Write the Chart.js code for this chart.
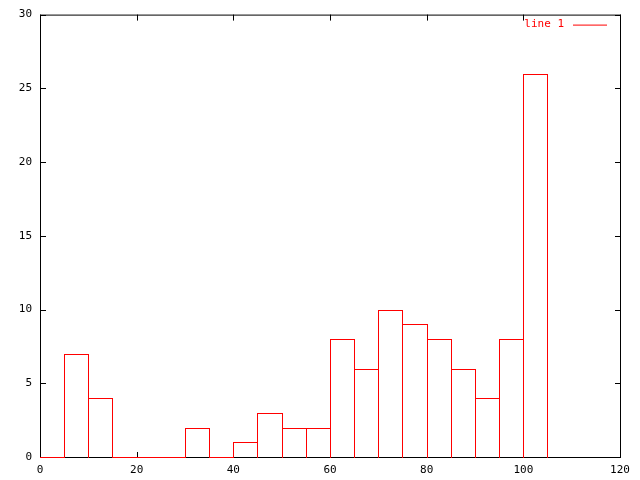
<!DOCTYPE html>
<html>
<head>
<meta charset="utf-8">
<script src="https://cdn.jsdelivr.net/npm/chart.js@4"></script>
<style>
  html, body { margin: 0; padding: 0; background: #fff; }
  #wrap { width: 640px; height: 480px; }
</style>
</head>
<body>
<div id="wrap"><canvas id="histChart" width="640" height="480"></canvas></div>
<script>
// histogram bins (start of each bin) and counts
const binStarts = [0, 5, 10, 15, 20, 25, 30, 35, 40, 45, 50, 55, 60, 65, 70, 75, 80, 85, 90, 95, 100];
const counts    = [0, 7, 4, 0, 0, 0, 2, 0, 1, 3, 2, 2, 8, 6, 10, 9, 8, 6, 4, 8, 26];
const binWidth = 5;
const seriesName = 'line 1';
const xTicks = [0, 20, 40, 60, 80, 100, 120];
const yTicks = [0, 5, 10, 15, 20, 25, 30];

const RED = '#ff0000';
const FONT = "'DejaVu Sans Mono', monospace";
const TICK_LEN = 6;

// empty bins show up as flat red segments on the axis: start, end, gap
const emptySegments = [];
binStarts.forEach((s, i) => {
    if (counts[i] === 0) {
        emptySegments.push({ x: s, y: 0 }, { x: s + binWidth, y: 0 }, { x: s + binWidth, y: null });
    }
});

// pixel snap, half rounds down like the reference
const snap = v => Math.ceil(v - 0.5 - 1e-6);
const NO_CLIP = { left: false, right: false, top: false, bottom: false, disabled: true };

// snap box edges to whole pixels so the 1px outlines stay crisp
const snapPlugin = {
    id: 'snapBars',
    afterDatasetsUpdate(chart) {
        const xs = chart.scales.x;
        const base = Math.round(chart.scales.y.getPixelForValue(0));

        const bars = chart.getDatasetMeta(0);
        bars._clip = NO_CLIP;
        bars.data.forEach((bar, i) => {
            const l = snap(xs.getPixelForValue(binStarts[i]));
            const r = snap(xs.getPixelForValue(binStarts[i] + binWidth));
            bar.x = (l + r + 1) / 2;
            bar.width = r - l + 1;
            if (counts[i] === 0) {
                bar.y = base;
                bar.base = base;
            } else {
                bar.y = snap(bar.y);
                bar.base = base + 1;
            }
            bar.height = bar.base - bar.y;
            // open at the bottom, like gnuplot boxes
            bar.borderSkipped = { bottom: true };
        });

        const flat = chart.getDatasetMeta(1);
        flat._clip = NO_CLIP;
        flat.data.forEach((pt, j) => {
            if (pt.skip) return;
            const p = flat.controller.getParsed(j);
            const px = snap(xs.getPixelForValue(p.x));
            pt.x = j % 3 === 1 ? px + 1 : px;
            pt.y = base + 0.5;
        });
    }
};

// gnuplot style frame with inward ticks on all four sides + key at top right
const framePlugin = {
    id: 'frame',
    beforeDatasetsDraw(chart) {
        const { ctx, chartArea: a, scales } = chart;
        ctx.save();
        ctx.strokeStyle = '#000';
        ctx.lineWidth = 1;
        ctx.strokeRect(a.left + 0.5, a.top + 0.5, a.right - a.left, a.bottom - a.top);
        ctx.beginPath();
        xTicks.forEach(v => {
            const px = snap(scales.x.getPixelForValue(v)) + 0.5;
            ctx.moveTo(px, a.bottom + 1); ctx.lineTo(px, a.bottom + 1 - TICK_LEN);
            ctx.moveTo(px, a.top); ctx.lineTo(px, a.top + TICK_LEN);
        });
        yTicks.forEach(v => {
            const py = snap(scales.y.getPixelForValue(v)) + 0.5;
            ctx.moveTo(a.left, py); ctx.lineTo(a.left + TICK_LEN, py);
            ctx.moveTo(a.right + 1, py); ctx.lineTo(a.right + 1 - TICK_LEN, py);
        });
        ctx.stroke();
        ctx.restore();
    },
    afterDraw(chart) {
        const { ctx, chartArea: a } = chart;
        ctx.save();
        ctx.font = '11px ' + FONT;
        ctx.fillStyle = RED;
        ctx.textAlign = 'right';
        ctx.textBaseline = 'middle';
        ctx.fillText(seriesName, a.right - 56, a.top + 10);
        ctx.strokeStyle = RED;
        ctx.lineWidth = 1;
        ctx.beginPath();
        ctx.moveTo(a.right - 47, a.top + 10.5);
        ctx.lineTo(a.right - 13, a.top + 10.5);
        ctx.stroke();
        ctx.restore();
    }
};

new Chart(document.getElementById('histChart'), {
    type: 'bar',
    data: {
        datasets: [{
            label: seriesName,
            data: binStarts.map((s, i) => ({ x: s + binWidth / 2, y: counts[i] })),
            backgroundColor: 'rgba(0,0,0,0)',
            borderColor: RED,
            borderWidth: 1,
            borderSkipped: 'bottom',
            inflateAmount: 0,
            barPercentage: 1,
            categoryPercentage: 1,
            clip: false
        }, {
            type: 'line',
            label: seriesName + ' (empty bins)',
            data: emptySegments,
            borderColor: RED,
            borderWidth: 1,
            pointRadius: 0,
            pointHoverRadius: 0,
            tension: 0,
            spanGaps: false,
            fill: false,
            clip: false
        }]
    },
    options: {
        responsive: false,
        animation: false,
        layout: { padding: { top: 13, right: 20, left: 0, bottom: 0 } },
        plugins: {
            legend: { display: false },
            tooltip: { enabled: false }
        },
        scales: {
            x: {
                type: 'linear',
                offset: false,
                min: 0,
                max: 120,
                grid: { display: false, drawTicks: false },
                border: { display: false },
                ticks: {
                    stepSize: 20,
                    maxRotation: 0,
                    padding: 7,
                    color: '#000',
                    font: { family: FONT, size: 11 }
                },
                afterFit(scale) { scale.height = 23; }
            },
            y: {
                min: 0,
                max: 30,
                grid: { display: false, drawTicks: false },
                border: { display: false },
                ticks: {
                    stepSize: 5,
                    padding: 8,
                    color: '#000',
                    font: { family: FONT, size: 11 }
                },
                afterFit(scale) { scale.width = 40; }
            }
        }
    },
    plugins: [snapPlugin, framePlugin]
});
</script>
</body>
</html>
